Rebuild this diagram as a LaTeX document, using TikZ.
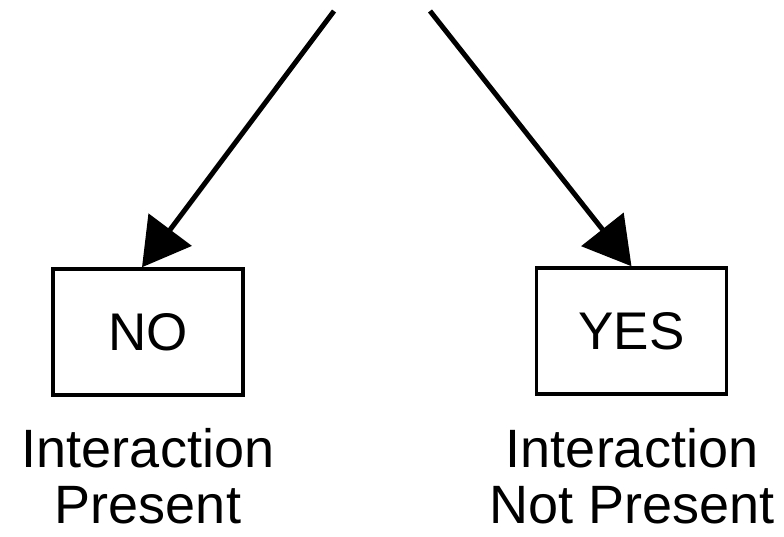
\documentclass[tikz,border=0pt]{standalone}
\usepackage{fontspec}
\setmainfont{Liberation Sans}
\usetikzlibrary{arrows.meta}

\tikzset{
  answer/.style={draw=black, line width=3.5pt, inner sep=0pt,
    minimum width=190pt, minimum height=126pt,
    font=\fontsize{53}{60}\selectfont},
  outcome/.style={inner sep=0pt, anchor=north, align=center,
    text depth=0pt, font=\fontsize{54}{56}\selectfont},
  branch/.style={line width=5pt, draw=black,
    -{Triangle[length=47pt,width=53pt]}}
}

\begin{document}
\begin{tikzpicture}[x=1pt, y=-1pt]
  \useasboundingbox[fill=white] (0,0) rectangle (784,536);

  % decision outcomes
  \node[answer] (no)  at (148,332) {NO};
  \node[answer] (yes) at (631.5,331) {YES};

  % captions under the boxes
  \node[outcome] (noText)  at (148,428) {Interaction\\Present};
  \node[outcome] (yesText) at (632,428) {Interaction\\Not Present};

  % branches coming down from the question above
  \coordinate (leftStart)  at (334,11);
  \coordinate (rightStart) at (430,11);
  \draw[branch] (leftStart)  -- ([xshift=-6pt]no.north);
  \draw[branch] (rightStart) -- (yes.north);
\end{tikzpicture}
\end{document}
